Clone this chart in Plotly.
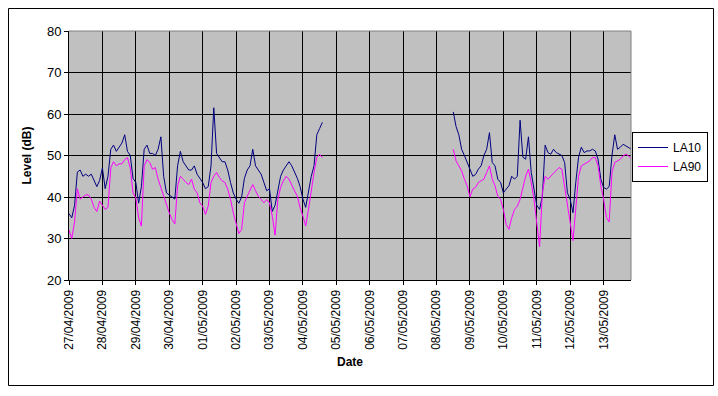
import pandas as pd
import plotly.graph_objects as go

# Segment start times (2-hourly readings)
seg1_start = "2009-04-27 00:00"
seg2_start = "2009-05-08 12:00"

la10_seg1 = [
    36, 35, 38, 46, 46.5, 45, 45.5, 45, 45.5, 44, 42.5, 44,          # 27/04
    47, 42, 45, 51.5, 52.5, 51, 52, 53, 55, 51, 50, 44.5,            # 28/04
    43.5, 38.5, 42.5, 51.5, 52.5, 50.5, 50.5, 50, 51.5, 54.5, 45, 41,  # 29/04
    40.5, 40, 39.5, 47.5, 51, 48.5, 47.5, 46.5, 46.5, 47.5, 45.5, 44.5,  # 30/04
    43.5, 42, 42.5, 47.5, 61.5, 50.5, 49.5, 48.5, 48.5, 46.5, 43.5, 41,  # 01/05
    39.5, 38.5, 40, 44.5, 46.5, 47.5, 51.5, 47.5, 46.5, 45.5, 43.5, 41.5,  # 02/05
    42, 36.5, 38, 42, 45, 46.5, 47.5, 48.5, 47.5, 46, 44.5, 42.5,    # 03/05
    39.5, 37.5, 41, 45, 47.5, 55, 56.5, 58,                          # 04/05
]
la90_seg1 = [
    32, 30, 34, 42, 39.5, 40, 40.5, 40.5, 39.5, 37.5, 36.5, 39,
    38, 37, 37.5, 47, 48.5, 47.5, 48, 48, 49, 49.5, 47, 41,
    39.8, 35, 33, 47.5, 49, 48.3, 46.7, 47.1, 44.3, 42.3, 40.2, 37.8,
    36.2, 34.6, 33.5, 42.7, 45, 44.3, 43.5, 43, 44.3, 41.9, 41, 38.6,
    37.8, 35.8, 37.8, 43.5, 45, 45.9, 44.7, 43.9, 43.5, 41.9, 39.4, 36.2,
    33.8, 31.2, 32.2, 38.6, 40.2, 41.5, 43, 41.5, 40.2, 39.4, 38.6, 39.4,
    38.6, 35.4, 30.8, 39.4, 42.3, 43.9, 45, 44.3, 42.7, 41.5, 40.2, 37.4,
    35.4, 33, 37, 41.9, 45.9, 49.6, 50.3, 49.5,
]
la10_seg2 = [
    60.5, 57, 55, 51.5, 50, 48.5,                                    # 08/05
    46.7, 45, 45.4, 46.7, 47.5, 50, 51.5, 55.5, 48.3, 47.5, 44.3, 43.5,  # 09/05
    41, 41.9, 42.7, 45, 44.3, 45, 58.5, 49.6, 49.1, 54.5, 45.9, 41.9,    # 10/05
    38, 37, 40.2, 52.5, 50.7, 50.3, 51.5, 50.7, 50.3, 50, 48.3, 41,      # 11/05
    39.4, 36.2, 43.5, 49.6, 52, 50.7, 51.1, 51.1, 51.5, 51.1, 49.1, 44.3,  # 12/05
    42.3, 41.9, 42.5, 50, 55, 51.5, 52, 52.7, 52.3, 52, 51.5,        # 13/05
]
la90_seg2 = [
    51.5, 48.7, 47.5, 46.3, 44.3, 42.7,
    40, 41.9, 42.3, 43.5, 43.9, 44.3, 45.9, 47.5, 44.3, 42.7, 40.2, 39.4,
    37, 33.4, 32.2, 35, 37, 37.8, 39.4, 41.9, 45, 46.7, 43.5, 39.4,
    33.8, 28, 41, 45, 44.3, 45, 45.5, 46.3, 47.1, 46.7, 42.7, 38.6,
    33.8, 29.5, 37.8, 45, 47.5, 47.9, 48.3, 48.7, 49.5, 49.5, 47.5, 42.7,
    39.5, 35, 34, 46, 48.3, 48.7, 49.1, 49.9, 50.3, 49.9, 49.1,
]

t1 = list(pd.date_range(seg1_start, periods=len(la10_seg1), freq="2h"))
t2 = list(pd.date_range(seg2_start, periods=len(la10_seg2), freq="2h"))
gap_t = [pd.Timestamp("2009-05-06 12:00")]
x_all = t1 + gap_t + t2
la10_all = la10_seg1 + [None] + la10_seg2
la90_all = la90_seg1 + [None] + la90_seg2

fig = go.Figure()
fig.add_trace(go.Scatter(x=x_all, y=la10_all, mode="lines", name="LA10",
                         line=dict(color="#000080", width=1), connectgaps=False))
fig.add_trace(go.Scatter(x=x_all, y=la90_all, mode="lines", name="LA90",
                         line=dict(color="#FF00FF", width=1), connectgaps=False))

L, R, T, B = 69, 631, 31, 280
W, H = 718, 396
pw, ph = R - L, B - T

def px(x):
    return (x - L) / pw

def py(y):
    return (B - y) / ph

fig.update_layout(
    width=W, height=H,
    margin=dict(l=L, r=W - R, t=T, b=H - B, pad=0, autoexpand=False),
    paper_bgcolor="white", plot_bgcolor="#C0C0C0",
    font=dict(family="Liberation Sans, Arial, sans-serif", size=12, color="black"),
    showlegend=True,
    legend=dict(x=px(632), y=py(132), xanchor="left", yanchor="top",
                bgcolor="white", bordercolor="black", borderwidth=1,
                font=dict(size=12), tracegroupgap=0, itemwidth=30),
    xaxis=dict(
        type="date", automargin=False,
        range=["2009-04-27 00:00", "2009-05-13 19:40"],
        tick0="2009-04-27", dtick=86400000, tickformat="%d/%m/%Y",
        tickangle=-90, ticks="outside", ticklen=4, tickcolor="black",
        showgrid=True, gridcolor="black", gridwidth=1,
        showline=True, linecolor="black", linewidth=1,
        zeroline=False,
        tickfont=dict(size=12),
        title=dict(text="<b>Date</b>", font=dict(size=12), standoff=8),
    ),
    yaxis=dict(
        automargin=False,
        range=[20, 80], dtick=10,
        ticks="outside", ticklen=4, tickcolor="black",
        showgrid=True, gridcolor="black", gridwidth=1,
        showline=True, linecolor="black", linewidth=1,
        zeroline=False,
        tickfont=dict(size=13),
        title=dict(text="<b>Level (dB)</b>", font=dict(size=12), standoff=12),
    ),
    shapes=[
        dict(type="rect", xref="paper", yref="paper",
             x0=px(8.5), x1=px(713.5), y0=py(385.5), y1=py(8.5),
             line=dict(color="black", width=1), layer="below"),
        dict(type="line", xref="paper", yref="paper", x0=1, x1=1, y0=0, y1=1,
             line=dict(color="#808080", width=1)),
        dict(type="line", xref="paper", yref="paper", x0=0, x1=1, y0=1, y1=1,
             line=dict(color="#808080", width=1)),
    ],
)

fig.write_html("out.html", config={"displayModeBar": False},
               post_script="document.body.style.margin='0px';")
